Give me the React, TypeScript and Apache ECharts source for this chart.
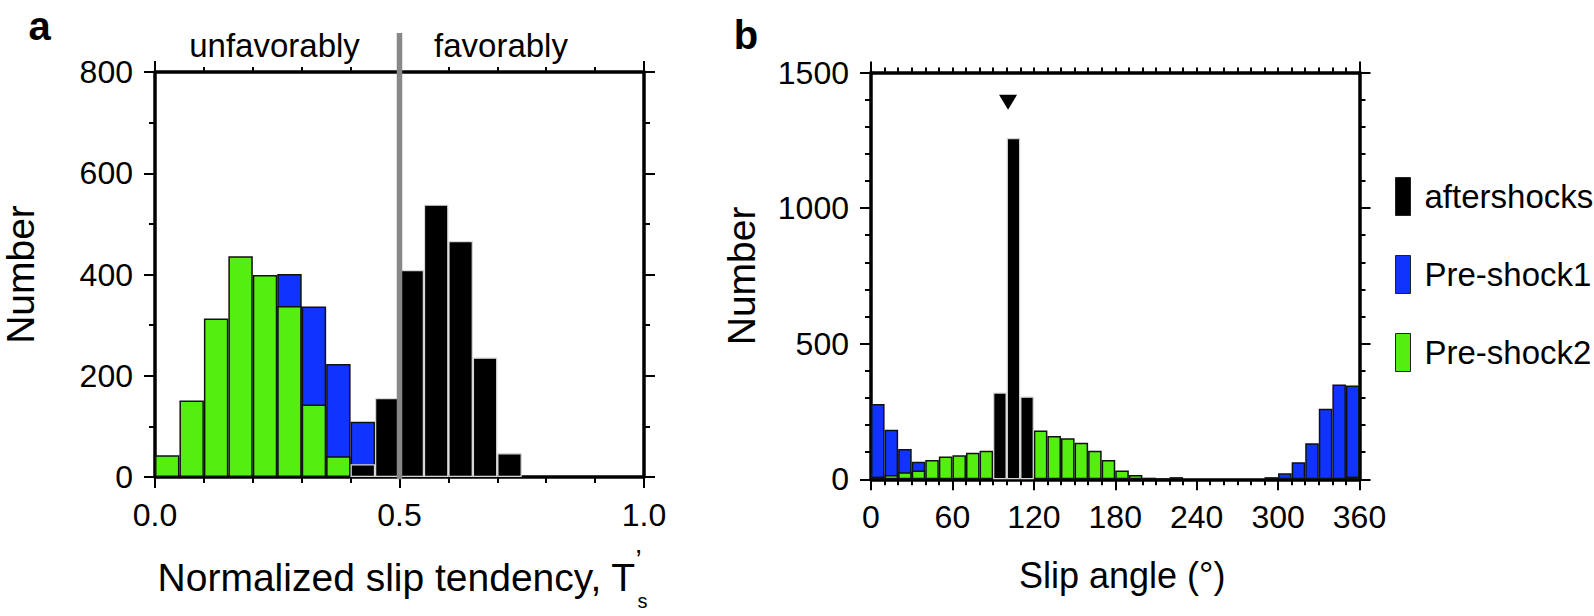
import React, { useEffect, useRef } from "react";
import * as echarts from "echarts";

// Panel a: normalized slip tendency bins (width 0.05)
const aBins = ["0.00","0.05","0.10","0.15","0.20","0.25","0.30","0.35","0.40","0.45","0.50","0.55","0.60","0.65","0.70","0.75","0.80","0.85","0.90","0.95"];
const aPre1 = [null, null, null, null, null, 401, 337, 223, 109, null, null, null, null, null, null, null, null, null, null, null];
const aPre2 = [43, 151, 313, 436, 399, 338, 143, 41, null, null, null, null, null, null, null, null, null, null, null, null];
const aAfter = [null, null, null, null, null, null, null, null, 25, 156, 409, 538, 466, 236, 47, null, null, null, null, null];

// Panel b: slip angle bins (width 10 degrees)
const bBins = ["0","10","20","30","40","50","60","70","80","90","100","110","120","130","140","150","160","170","180","190","200","210","220","230","240","250","260","270","280","290","300","310","320","330","340","350"];
const bPre1 = [278, 183, 112, 65, null, null, null, null, null, null, null, null, null, null, null, null, null, null, null, null, null, null, null, null, null, null, null, null, null, 8, 22, 63, 133, 260, 350, 346];
const bPre2 = [10, 16, 26, 32, 71, 84, 89, 98, 105, null, null, null, 180, 160, 151, 135, 105, 71, 32, 16, 6, 2, 8, null, null, null, null, null, null, null, null, null, null, null, null, 10];
const bAfter = [null, null, null, null, null, null, null, null, null, 320, 1258, 305, null, null, null, null, null, null, null, null, null, null, null, null, null, null, null, null, null, null, null, null, null, null, null, null];
const mainShock = [[101, 1390]];

const seriesNames = ["aftershocks", "Pre-shock1", "Pre-shock2"];
const BLACK = "#000000";
const BLUE = "#1133ff";
const GREEN = "#55ee11";
const FONT = "Liberation Sans";

export default function App() {
  const ref = useRef<HTMLDivElement>(null);
  useEffect(() => {
    if (!ref.current) return;
    const chart = echarts.init(ref.current, null, { renderer: "svg" });
    const tickStyle = { color: "#000", width: 2 };
    const lineStyle = { color: "#000", width: 3.5 };
    const label = { fontSize: 32, fontFamily: FONT, color: "#000" };
    const nameStyle = { fontSize: 39, fontFamily: FONT, color: "#000" };

    const frameAxis = (extra: any) => ({
      type: "value",
      axisLine: { show: true, onZero: false, lineStyle },
      axisTick: { show: true, inside: false, length: 11, lineStyle: tickStyle },
      minorTick: { show: true, length: 6, lineStyle: tickStyle },
      splitLine: { show: false },
      minorSplitLine: { show: false },
      axisLabel: { show: false },
      ...extra,
    });

    const gA = { left: 154.5, top: 72, width: 489.5, height: 407.3 };
    const gB = { left: 871, top: 72.5, width: 488.5, height: 406.8 };

    const barBase = (name: string, data: any[], xi: number, yi: number) => {
      const isAfter = name === "aftershocks";
      const color = isAfter ? BLACK : name === "Pre-shock1" ? BLUE : GREEN;
      return {
        type: "bar",
        name,
        data,
        xAxisIndex: xi,
        yAxisIndex: yi,
        barWidth: "100%",
        barGap: "-100%",
        barCategoryGap: 0,
        itemStyle: {
          color,
          borderColor: isAfter ? "#d8d8d8" : "#111",
          borderWidth: isAfter ? 1.2 : 1.5,
        },
        emphasis: { disabled: true },
      };
    };

    chart.setOption({
      animation: false,
      grid: [gA, gB],
      legend: {
        data: seriesNames,
        orient: "vertical",
        left: 1390,
        top: 172,
        itemWidth: 15,
        itemHeight: 38,
        itemGap: 39,
        itemStyle: { borderColor: "#222", borderWidth: 1 },
        textStyle: { fontSize: 33, fontFamily: FONT, color: "#000", padding: [0, 0, 0, 9] },
        icon: "rect",
        selectedMode: false,
      },
      xAxis: [
        frameAxis({
          gridIndex: 0, position: "bottom", min: 0, max: 1, interval: 0.5,
          minorTick: { show: true, splitNumber: 5, length: 6, lineStyle: tickStyle },
          axisLabel: { show: true, ...label, margin: 22, formatter: (v: number) => v.toFixed(1) },
          name: "{n|Normalized slip tendency, T}{s|s}{p|’}",
          nameLocation: "middle",
          nameGap: 78,
          nameTextStyle: {
            ...nameStyle,
            rich: {
              n: { fontSize: 39, fontFamily: FONT, color: "#000", lineHeight: 44, verticalAlign: "middle" },
              s: { fontSize: 20, fontFamily: FONT, color: "#000", verticalAlign: "bottom", lineHeight: 20, padding: [0, 0, -12, 2] },
              p: { fontSize: 28, fontFamily: FONT, color: "#000", verticalAlign: "top", lineHeight: 28, padding: [-10, 0, 0, -12] },
            },
          },
        }),
        frameAxis({
          gridIndex: 0, position: "top", min: 0, max: 1, interval: 1,
          minorTick: { show: true, splitNumber: 10, length: 5, lineStyle: tickStyle },
        }),
        { type: "category", gridIndex: 0, data: aBins, show: false },
        frameAxis({
          gridIndex: 1, position: "bottom", min: 0, max: 360, interval: 60,
          minorTick: { show: true, splitNumber: 6, length: 6, lineStyle: tickStyle },
          axisLabel: { show: true, ...label, margin: 22 },
          name: "Slip angle (°)",
          nameLocation: "middle",
          nameGap: 78,
          nameTextStyle: { ...nameStyle, fontSize: 36, padding: [0, 0, 0, 14] },
        }),
        frameAxis({
          gridIndex: 1, position: "top", min: 0, max: 360, interval: 360,
          minorTick: { show: true, splitNumber: 36, length: 5, lineStyle: tickStyle },
        }),
        { type: "category", gridIndex: 1, data: bBins, show: false },
      ],
      yAxis: [
        frameAxis({
          gridIndex: 0, position: "left", min: 0, max: 800, interval: 200,
          minorTick: { show: true, splitNumber: 2, length: 6, lineStyle: tickStyle },
          axisLabel: { show: true, ...label, margin: 22, formatter: (v: number) => String(v) },
          name: "Number", nameLocation: "middle", nameGap: 115, nameTextStyle: nameStyle,
        }),
        frameAxis({
          gridIndex: 0, position: "right", min: 0, max: 800, interval: 200,
          minorTick: { show: true, splitNumber: 2, length: 6, lineStyle: tickStyle },
        }),
        frameAxis({
          gridIndex: 1, position: "left", min: 0, max: 1500, interval: 500,
          minorTick: { show: true, splitNumber: 5, length: 6, lineStyle: tickStyle },
          axisLabel: { show: true, ...label, margin: 22, formatter: (v: number) => String(v) },
          name: "Number", nameLocation: "middle", nameGap: 110, nameTextStyle: nameStyle,
        }),
        frameAxis({
          gridIndex: 1, position: "right", min: 0, max: 1500, interval: 500,
          minorTick: { show: true, splitNumber: 5, length: 6, lineStyle: tickStyle },
        }),
      ],
      series: [
        barBase("Pre-shock1", aPre1, 2, 0),
        barBase("Pre-shock2", aPre2, 2, 0),
        barBase("aftershocks", aAfter, 2, 0),
        barBase("Pre-shock1", bPre1, 5, 2),
        barBase("Pre-shock2", bPre2, 5, 2),
        barBase("aftershocks", bAfter, 5, 2),
        {
          type: "scatter",
          name: "mainshock",
          xAxisIndex: 3,
          yAxisIndex: 2,
          data: mainShock,
          symbol: "triangle",
          symbolRotate: 180,
          symbolSize: [18, 15],
          itemStyle: { color: "#000", opacity: 1 },
          emphasis: { disabled: true },
          z: 5,
        },
      ],
    });

    const px = chart.convertToPixel({ xAxisIndex: 0 }, 0.5) as number;
    const bottom = gA.top + gA.height;
    chart.setOption({
      graphic: [
        {
          type: "line",
          z: 100,
          shape: { x1: px, y1: 33, x2: px, y2: bottom },
          style: { stroke: "#888888", lineWidth: 5.5 },
        },
        {
          type: "text", z: 100, x: 274.5, y: 45,
          style: { text: "unfavorably", fontSize: 33, fontFamily: FONT, fill: "#000", align: "center", verticalAlign: "middle" },
        },
        {
          type: "text", z: 100, x: 501, y: 45,
          style: { text: "favorably", fontSize: 33, fontFamily: FONT, fill: "#000", align: "center", verticalAlign: "middle" },
        },
        {
          type: "text", z: 100, x: 39.5, y: 26,
          style: { text: "a", fontSize: 40, fontWeight: "bold", fontFamily: FONT, fill: "#000", align: "center", verticalAlign: "middle" },
        },
        {
          type: "text", z: 100, x: 746, y: 35,
          style: { text: "b", fontSize: 40, fontWeight: "bold", fontFamily: FONT, fill: "#000", align: "center", verticalAlign: "middle" },
        },
      ],
    });

    return () => chart.dispose();
  }, []);
  return <div ref={ref} style={{ position: "fixed", left: 0, top: 0, width: 1594, height: 616, background: "#fff" }} />;
}
